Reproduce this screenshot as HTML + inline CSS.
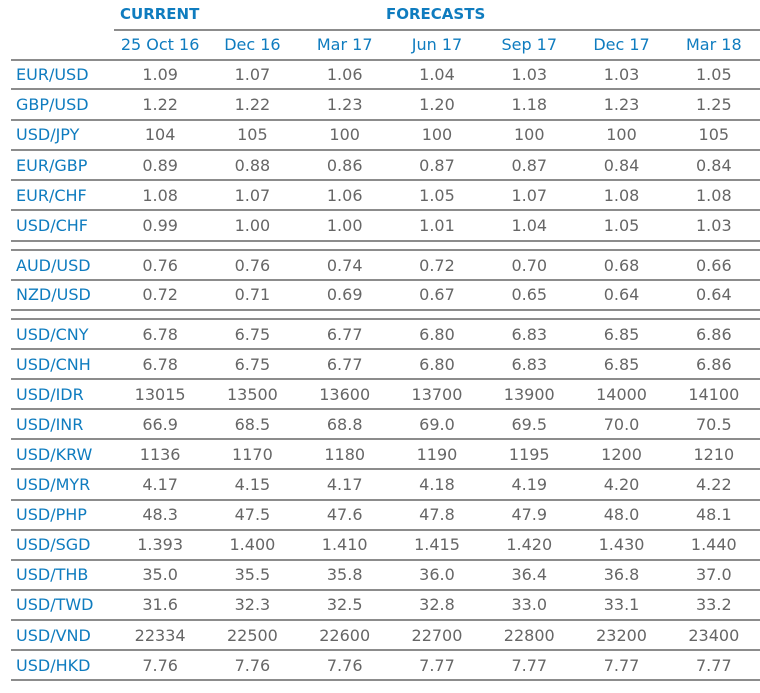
<!DOCTYPE html>
<html><head><meta charset="utf-8"><style>
body{margin:0;width:760px;height:693px;background:#fff;position:relative;overflow:hidden;font-family:"DejaVu Sans",Verdana,sans-serif;font-size:16px}
.r{position:absolute;left:11px;width:749px;box-sizing:border-box;border-bottom:2px solid #8c8c8c;display:flex;align-items:center;color:#666}
.r span{width:92.3px;text-align:center;white-space:nowrap}
.r b{width:103px;font-weight:normal;color:#0f7cbf;padding-left:5px;box-sizing:border-box}
.h{color:#0f7cbf}
.ln{position:absolute;height:2px;background:#8c8c8c}
.t{position:absolute;top:5px;color:#0f7cbf;font-weight:bold;font-size:15px}
</style></head><body>
<div class="t" style="left:120px">CURRENT</div>
<div class="t" style="left:386px">FORECASTS</div>
<div class="ln" style="left:114px;top:29px;width:646px"></div>
<div class="r h" style="top:29px;height:32px"><b></b><span class="h">25 Oct 16</span><span>Dec 16</span><span>Mar 17</span><span>Jun 17</span><span>Sep 17</span><span>Dec 17</span><span>Mar 18</span></div>
<div class="r" style="top:60px;height:30.3px"><b>EUR/USD</b><span>1.09</span><span>1.07</span><span>1.06</span><span>1.04</span><span>1.03</span><span>1.03</span><span>1.05</span></div>
<div class="r" style="top:90.3px;height:30.3px"><b>GBP/USD</b><span>1.22</span><span>1.22</span><span>1.23</span><span>1.20</span><span>1.18</span><span>1.23</span><span>1.25</span></div>
<div class="r" style="top:120.6px;height:30.3px"><b>USD/JPY</b><span>104</span><span>105</span><span>100</span><span>100</span><span>100</span><span>100</span><span>105</span></div>
<div class="r" style="top:150.9px;height:30.3px"><b>EUR/GBP</b><span>0.89</span><span>0.88</span><span>0.86</span><span>0.87</span><span>0.87</span><span>0.84</span><span>0.84</span></div>
<div class="r" style="top:181.2px;height:30.3px"><b>EUR/CHF</b><span>1.08</span><span>1.07</span><span>1.06</span><span>1.05</span><span>1.07</span><span>1.08</span><span>1.08</span></div>
<div class="r" style="top:211.5px;height:30.3px"><b>USD/CHF</b><span>0.99</span><span>1.00</span><span>1.00</span><span>1.01</span><span>1.04</span><span>1.05</span><span>1.03</span></div>
<div class="ln" style="left:11px;top:249px;width:749px"></div>
<div class="r" style="top:251px;height:30px"><b>AUD/USD</b><span>0.76</span><span>0.76</span><span>0.74</span><span>0.72</span><span>0.70</span><span>0.68</span><span>0.66</span></div>
<div class="r" style="top:281px;height:29.5px"><b>NZD/USD</b><span>0.72</span><span>0.71</span><span>0.69</span><span>0.67</span><span>0.65</span><span>0.64</span><span>0.64</span></div>
<div class="ln" style="left:11px;top:318px;width:749px"></div>
<div class="r" style="top:320px;height:30.1px"><b>USD/CNY</b><span>6.78</span><span>6.75</span><span>6.77</span><span>6.80</span><span>6.83</span><span>6.85</span><span>6.86</span></div>
<div class="r" style="top:350.1px;height:30.1px"><b>USD/CNH</b><span>6.78</span><span>6.75</span><span>6.77</span><span>6.80</span><span>6.83</span><span>6.85</span><span>6.86</span></div>
<div class="r" style="top:380.2px;height:30.1px"><b>USD/IDR</b><span>13015</span><span>13500</span><span>13600</span><span>13700</span><span>13900</span><span>14000</span><span>14100</span></div>
<div class="r" style="top:410.3px;height:30.1px"><b>USD/INR</b><span>66.9</span><span>68.5</span><span>68.8</span><span>69.0</span><span>69.5</span><span>70.0</span><span>70.5</span></div>
<div class="r" style="top:440.4px;height:30.1px"><b>USD/KRW</b><span>1136</span><span>1170</span><span>1180</span><span>1190</span><span>1195</span><span>1200</span><span>1210</span></div>
<div class="r" style="top:470.5px;height:30.1px"><b>USD/MYR</b><span>4.17</span><span>4.15</span><span>4.17</span><span>4.18</span><span>4.19</span><span>4.20</span><span>4.22</span></div>
<div class="r" style="top:500.6px;height:30.1px"><b>USD/PHP</b><span>48.3</span><span>47.5</span><span>47.6</span><span>47.8</span><span>47.9</span><span>48.0</span><span>48.1</span></div>
<div class="r" style="top:530.7px;height:30.1px"><b>USD/SGD</b><span>1.393</span><span>1.400</span><span>1.410</span><span>1.415</span><span>1.420</span><span>1.430</span><span>1.440</span></div>
<div class="r" style="top:560.8px;height:30.1px"><b>USD/THB</b><span>35.0</span><span>35.5</span><span>35.8</span><span>36.0</span><span>36.4</span><span>36.8</span><span>37.0</span></div>
<div class="r" style="top:590.9px;height:30.1px"><b>USD/TWD</b><span>31.6</span><span>32.3</span><span>32.5</span><span>32.8</span><span>33.0</span><span>33.1</span><span>33.2</span></div>
<div class="r" style="top:621px;height:30.1px"><b>USD/VND</b><span>22334</span><span>22500</span><span>22600</span><span>22700</span><span>22800</span><span>23200</span><span>23400</span></div>
<div class="r" style="top:651.1px;height:30.1px"><b>USD/HKD</b><span>7.76</span><span>7.76</span><span>7.76</span><span>7.77</span><span>7.77</span><span>7.77</span><span>7.77</span></div>
</body></html>
